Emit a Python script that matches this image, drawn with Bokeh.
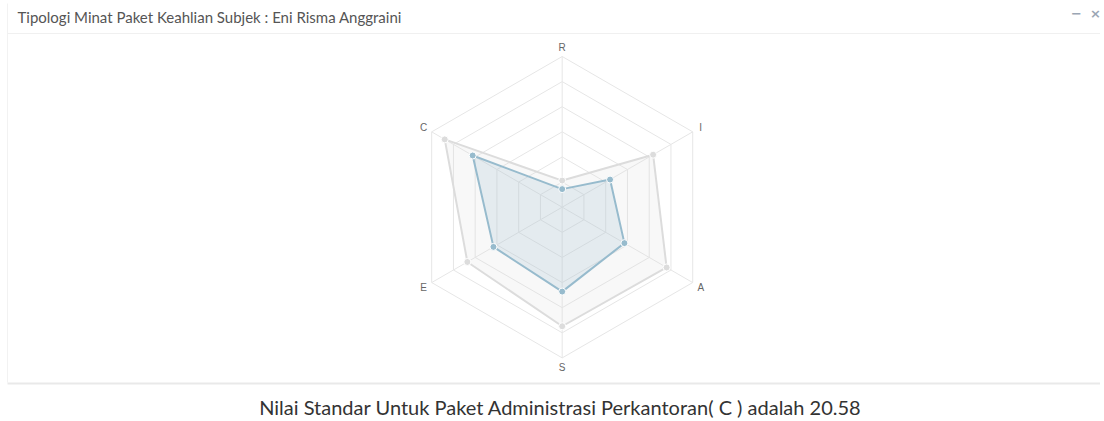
import math
from bokeh.plotting import figure
from bokeh.models import Range1d
from bokeh.core.properties import value
from bokeh.embed import file_html
from bokeh.resources import INLINE

# ---- data ----
axis_labels = ["R", "I", "A", "S", "E", "C"]
standard_values = [5.3, 20.9, 24.0, 23.7, 21.8, 27.0]
subject_values = [3.6, 11.0, 14.3, 16.8, 15.8, 20.58]
scale_max = 30
scale_step = 5
title_text = "Tipologi Minat Paket Keahlian Subjek : Eni Risma Anggraini"
footer_text = "Nilai Standar Untuk Paket Administrasi Perkantoran( C ) adalah 20.58"

# ---- geometry (page pixels) ----
W, H = 1100, 419
X0, Y0 = 0, 0
CX, CY = 561.7, 206.7
R_PX = 150.7
s = R_PX / scale_max

def px(X):
    return (X - CX) / s

def py(Y):
    return (CY - Y) / s

p = figure(width=W, height=H, output_backend="svg", toolbar_location=None,
           x_range=Range1d(px(X0), px(X0 + W)), y_range=Range1d(py(Y0 + H), py(Y0)),
           min_border=0, outline_line_color=None, background_fill_color="white")
p.axis.visible = False
p.xgrid.visible = False
p.ygrid.visible = False

n = len(axis_labels)
angles = [math.radians(90 - 360.0 * i / n) for i in range(n)]

def poly(vals):
    xs = [v * math.cos(a) for v, a in zip(vals, angles)]
    ys = [v * math.sin(a) for v, a in zip(vals, angles)]
    return xs, ys

grid_col = "#e6e6e6"
# rings
for k in range(1, scale_max // scale_step + 1):
    r = k * scale_step
    xs, ys = poly([r] * n)
    p.line(xs + xs[:1], ys + ys[:1], line_color=grid_col, line_width=1)
# spokes
for a in angles:
    p.line([0, scale_max * math.cos(a)], [0, scale_max * math.sin(a)],
           line_color=grid_col, line_width=1)

# point labels
lab_r = 160 / s
p.text([lab_r * math.cos(a) for a in angles], [lab_r * math.sin(a) for a in angles],
       text=axis_labels, text_align="center", text_baseline="middle",
       text_font=value("Liberation Sans"), text_font_size="10px", text_color="#666666")

# datasets
for vals, col, fill in [(standard_values, "#dcdcdc", (220, 220, 220, 0.2)),
                        (subject_values, "#97bbcd", (151, 187, 205, 0.2))]:
    xs, ys = poly(vals)
    p.patch(xs, ys, fill_color=fill[:3], fill_alpha=fill[3], line_color=col, line_width=2)
    p.scatter(xs, ys, size=7, fill_color=col, line_color="white", line_width=1)

# panel decorations
p.line([px(7), px(7)], [py(3), py(382)], line_color="#f2f2f2", line_width=1)
p.line([px(7), px(1104)], [py(33), py(33)], line_color="#f0f0f0", line_width=1)
p.line([px(7), px(1104)], [py(383), py(383)], line_color="#e9e9e9", line_width=2)
p.text([px(17)], [py(16)], text=[title_text], text_align="left", text_baseline="middle",
       text_font=value("Lato"), text_font_size="15px", text_color="#555555")
p.text([px(1076), px(1095)], [py(13), py(13)], text=["\u2212", "\u00d7"],
       text_align="center", text_baseline="middle", text_font=value("DejaVu Sans"),
       text_font_size="13px", text_font_style="bold", text_color="#9aa6b4")
p.text([px(560)], [py(406)], text=[footer_text], text_align="center", text_baseline="middle",
       text_font=value("Lato"), text_font_size="20px", text_color="#333333")

open("out.html", "w").write(file_html(p, INLINE))
